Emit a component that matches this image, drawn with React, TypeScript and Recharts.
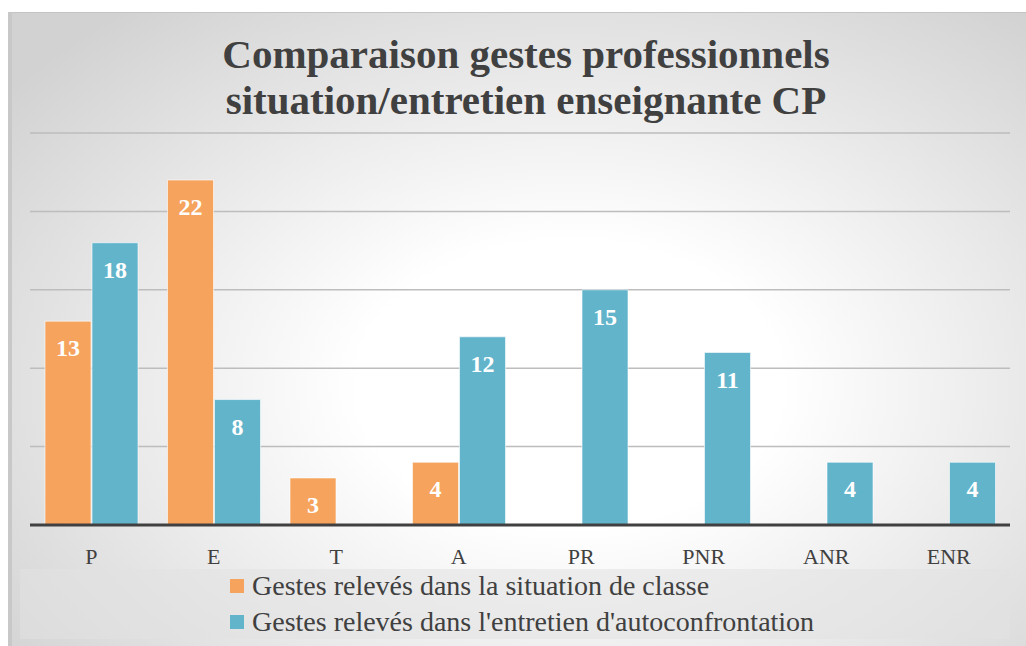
import React from 'react';
import { Bar, BarChart, CartesianGrid, LabelList, XAxis, YAxis } from 'recharts';

const categories = ['P', 'E', 'T', 'A', 'PR', 'PNR', 'ANR', 'ENR'];
const situationValues = [13, 22, 3, 4, null, null, null, null];
const entretienValues = [18, 8, null, 12, 15, 11, 4, 4];
const yTicks = [0, 5, 10, 15, 20, 25];

const seriesNames = [
  'Gestes relevés dans la situation de classe',
  "Gestes relevés dans l'entretien d'autoconfrontation",
];
const ORANGE = '#F5A35D';
const BLUE = '#62B4CB';

const data = categories.map((name, i) => ({
  name,
  situation: situationValues[i],
  entretien: entretienValues[i],
}));

const font = '"Liberation Serif", "DejaVu Serif", serif';

export default function App() {
  return (
    <div
      style={{
        position: 'absolute',
        left: 0,
        top: 0,
        width: 1026,
        height: 646,
        background: '#ffffff',
        fontFamily: font,
      }}
    >
      {/* chart panel */}
      <div
        style={{
          position: 'absolute',
          left: 8,
          top: 12,
          width: 1014,
          height: 640,
          borderTop: '1px solid #c4c4c4',
          borderLeft: '4px solid #c8c8c8',
          background: 'radial-gradient(ellipse 70% 75% at 55% 58%, #ffffff 30%, #d2d2d2 100%)',
        }}
      />
      {/* title */}
      <div
        style={{
          position: 'absolute',
          left: 0,
          top: 31,
          width: 1052,
          textAlign: 'center',
          fontWeight: 'bold',
          fontSize: 41,
          lineHeight: '46px',
          color: '#404040',
        }}
      >
        Comparaison gestes professionnels
        <br />
        situation/entretien enseignante CP
      </div>

      <div style={{ position: 'absolute', left: 0, top: 0 }}>
        <BarChart
          width={1026}
          height={646}
          data={data}
          margin={{ top: 133, right: 16, left: 30, bottom: 91 }}
          barCategoryGap={15}
          barGap={1}
        >
          <CartesianGrid vertical={false} stroke="#bdbdbd" strokeWidth={1.5} />
          <YAxis hide domain={[0, 25]} ticks={yTicks} />
          <XAxis
            dataKey="name"
            height={30}
            stroke="#404040"
            axisLine={{ stroke: '#404040', strokeWidth: 3 }}
            tickLine={false}
            tick={{ fill: '#404040', fontSize: 22, fontFamily: font }}
            tickMargin={17}
          />
          <Bar
            dataKey="situation"
            fill={ORANGE}
            stroke="#ffffff"
            strokeOpacity={0.6}
            isAnimationActive={false}
          >
            <LabelList
              dataKey="situation"
              position="insideTop"
              offset={18}
              fill="#ffffff"
              style={{ fontSize: 24, fontWeight: 'bold', fontFamily: font }}
            />
          </Bar>
          <Bar
            dataKey="entretien"
            fill={BLUE}
            stroke="#ffffff"
            strokeOpacity={0.6}
            isAnimationActive={false}
          >
            <LabelList
              dataKey="entretien"
              position="insideTop"
              offset={18}
              fill="#ffffff"
              style={{ fontSize: 24, fontWeight: 'bold', fontFamily: font }}
            />
          </Bar>
        </BarChart>
      </div>

      {/* legend */}
      <div
        style={{
          position: 'absolute',
          left: 20,
          top: 569,
          width: 990,
          height: 70,
          background: 'rgba(225,225,225,0.55)',
        }}
      >
        {seriesNames.map((n, i) => (
          <div
            key={n}
            style={{
              position: 'absolute',
              left: 210,
              top: 1 + i * 36,
              height: 32,
              display: 'flex',
              alignItems: 'center',
              fontSize: 28,
              color: '#404040',
            }}
          >
            <span
              style={{
                display: 'inline-block',
                width: 14,
                height: 14,
                background: i === 0 ? ORANGE : BLUE,
                marginRight: 8,
              }}
            />
            {n}
          </div>
        ))}
      </div>
    </div>
  );
}
